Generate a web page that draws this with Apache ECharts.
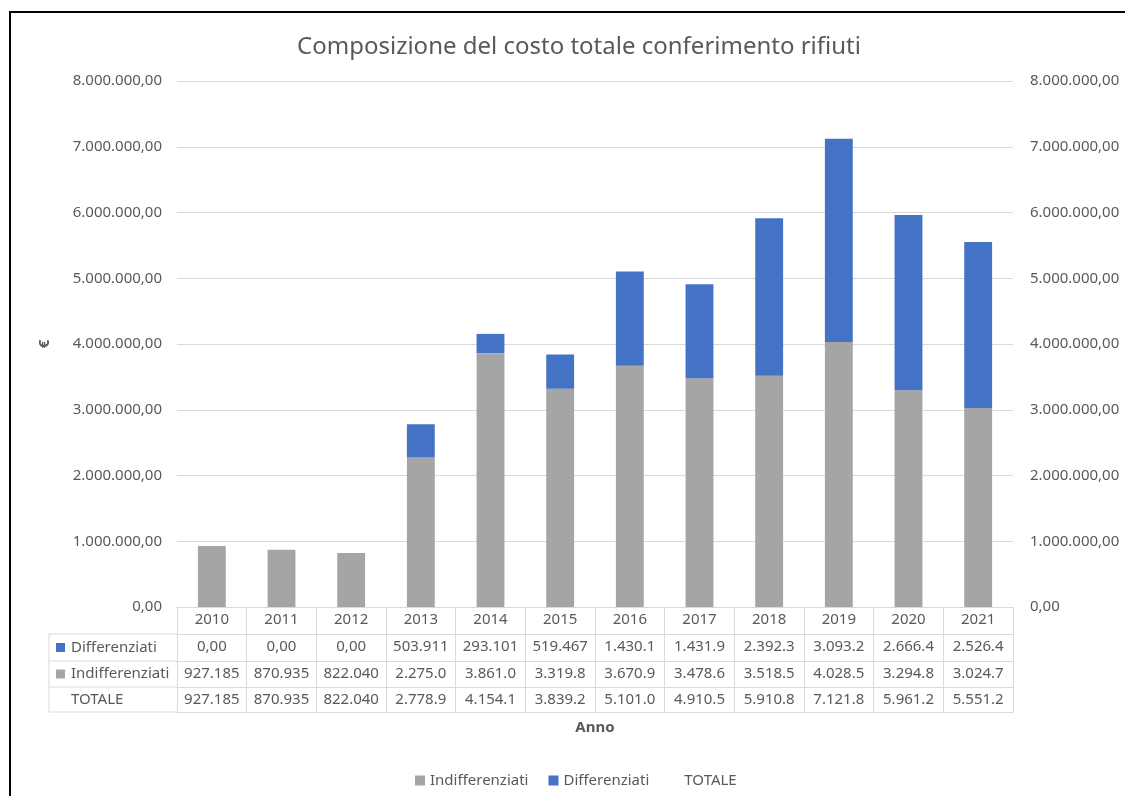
<!DOCTYPE html>
<html>
<head>
<meta charset="utf-8">
<script src="https://cdn.jsdelivr.net/npm/echarts@6/dist/echarts.min.js"></script>
<style>
html,body{margin:0;padding:0;background:#fff;}
#chart{width:1125px;height:796px;}
</style>
</head>
<body>
<div id="chart"></div>
<script>
const years = ['2010','2011','2012','2013','2014','2015','2016','2017','2018','2019','2020','2021'];
const differenziati = [0, 0, 0, 503911, 293101, 519467, 1430100, 1431900, 2392300, 3093280, 2666400, 2526450];
const indifferenziati = [927185, 870935, 822040, 2275000, 3861000, 3319800, 3670900, 3478600, 3518500, 4028540, 3294800, 3024750];
const totale = years.map((y, i) => differenziati[i] + indifferenziati[i]);
const yTicks = [0, 1000000, 2000000, 3000000, 4000000, 5000000, 6000000, 7000000, 8000000];

const GREY = '#a5a5a5', BLUE = '#4472c4', TXT = '#595959', LINE = '#d9d9d9';
const FONT = 'Noto Sans';

function fmt(v) {
  let s = (Math.round(v * 100) / 100).toFixed(2).split('.');
  let i = s[0].replace(/\B(?=(\d{3})+(?!\d))/g, '.');
  return i + ',' + s[1];
}
function cell(v) { return fmt(v).slice(0, 7); }

const rowOffsets = [0, 27, 54, 80, 105];
const rowData = [null, differenziati, indifferenziati, totale];

const xAxes = [];
for (let r = 0; r < 4; r++) {
  xAxes.push({
    type: 'category',
    data: years,
    position: 'bottom',
    offset: rowOffsets[r],
    boundaryGap: true,
    axisLine: { show: true, onZero: false, lineStyle: { color: LINE, width: 1 } },
    axisTick: { show: true, interval: 0, length: rowOffsets[r + 1] - rowOffsets[r], lineStyle: { color: LINE } },
    axisLabel: {
      interval: 0, margin: 5, color: TXT, fontSize: 15, fontFamily: FONT,
      formatter: r === 0 ? (v => v) : ((v, idx) => cell(rowData[r][idx]))
    },
    splitLine: { show: false }
  });
}
xAxes.push({
  type: 'category', data: years, position: 'bottom', offset: rowOffsets[4],
  axisLine: { show: true, onZero: false, lineStyle: { color: LINE } },
  axisTick: { show: false }, axisLabel: { show: false },
  name: 'Anno', nameLocation: 'middle', nameGap: 8,
  nameTextStyle: { color: TXT, fontSize: 15, fontWeight: 'bold', fontFamily: FONT }
});

const yLabel = { color: TXT, fontSize: 15, fontFamily: FONT, formatter: v => fmt(v) };

const chart = echarts.init(document.getElementById('chart'), null, { renderer: 'canvas' });

const leftX = 49, colX = 177;
const rowLines = [634, 661, 687, 712];
const graphics = [
  { type: 'rect', shape: { x: 10, y: 12, width: 1300, height: 1000 }, style: { fill: null, stroke: '#000', lineWidth: 2 }, z: 100 },
  { type: 'line', shape: { x1: leftX, y1: 634, x2: leftX, y2: 712 }, style: { stroke: LINE, lineWidth: 1 } }
];
rowLines.forEach(y => graphics.push({ type: 'line', shape: { x1: leftX, y1: y, x2: colX, y2: y }, style: { stroke: LINE, lineWidth: 1 } }));
const rowLabels = [['Differenziati', BLUE], ['Indifferenziati', GREY], ['TOTALE', null]];
rowLabels.forEach((rl, i) => {
  const cy = (rowLines[i] + rowLines[i + 1]) / 2;
  if (rl[1]) graphics.push({ type: 'rect', shape: { x: 56, y: cy - 4.5, width: 9, height: 9 }, style: { fill: rl[1] } });
  graphics.push({ type: 'text', x: 71, y: cy, style: { text: rl[0], fill: TXT, fontSize: 15, fontFamily: FONT, textVerticalAlign: 'middle', verticalAlign: 'middle' } });
});

chart.setOption({
  animation: false,
  textStyle: { fontFamily: FONT },
  title: {
    text: 'Composizione del costo totale conferimento rifiuti',
    left: 574, top: 30, textAlign: 'center',
    textStyle: { color: TXT, fontSize: 24, fontWeight: 'normal', fontFamily: FONT }
  },
  legend: {
    left: 410, top: 768,
    itemWidth: 10, itemHeight: 10, itemGap: 20,
    textStyle: { color: TXT, fontSize: 15, fontFamily: FONT },
    data: [
      { name: 'Indifferenziati', icon: 'rect' },
      { name: 'Differenziati', icon: 'rect' },
      { name: 'TOTALE', icon: 'rect', itemStyle: { opacity: 0 } }
    ]
  },
  grid: { left: 177, right: 112, top: 81, bottom: 189 },
  xAxis: xAxes,
  yAxis: [
    {
      type: 'value', min: 0, max: 8000000, interval: 1000000, position: 'left',
      axisLine: { show: false }, axisTick: { show: false },
      axisLabel: Object.assign({ margin: 15 }, yLabel),
      splitLine: { lineStyle: { color: LINE } },
      name: '€', nameLocation: 'middle', nameGap: 125, nameRotate: 90,
      nameTextStyle: { color: TXT, fontSize: 15, fontWeight: 'bold', fontFamily: FONT }
    },
    {
      type: 'value', min: 0, max: 8000000, interval: 1000000, position: 'right',
      axisLine: { show: false }, axisTick: { show: false },
      axisLabel: Object.assign({ margin: 17 }, yLabel),
      splitLine: { show: false }
    }
  ],
  series: [
    { name: 'Indifferenziati', type: 'bar', stack: 'tot', barWidth: '40%', data: indifferenziati, itemStyle: { color: GREY } },
    { name: 'Differenziati', type: 'bar', stack: 'tot', barWidth: '40%', data: differenziati, itemStyle: { color: BLUE } },
    { name: 'TOTALE', type: 'line', data: totale, symbol: 'none', lineStyle: { opacity: 0 }, itemStyle: { color: 'rgba(0,0,0,0)' }, silent: true }
  ],
  graphic: graphics
});
</script>
</body>
</html>
